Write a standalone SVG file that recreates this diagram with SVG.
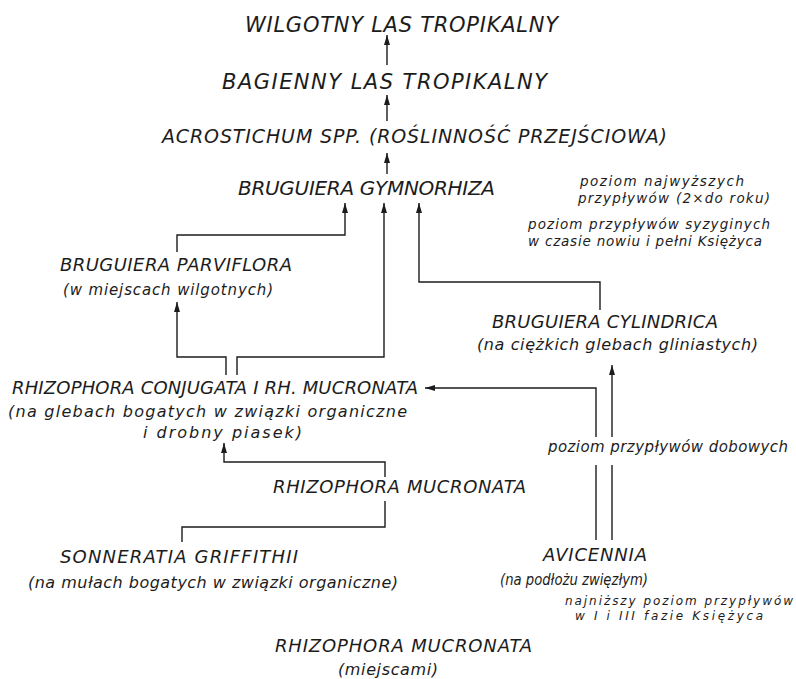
<svg xmlns="http://www.w3.org/2000/svg" width="796" height="679" viewBox="0 0 796 679">
<style>
text{font-family:"DejaVu Sans","Liberation Sans",sans-serif;font-style:italic;fill:#1c1c1c}
.t1{font-size:21px}
.t2{font-size:18px}
.n{font-size:15px}
.s{font-size:13.5px}
.c path{fill:none;stroke:#1c1c1c;stroke-width:1.4}
</style>
<defs>
<marker id="ah" viewBox="0 0 10 6" refX="10" refY="3" markerWidth="10" markerHeight="6" orient="auto" markerUnits="userSpaceOnUse"><path d="M0,0 L10,3 L0,6 z" fill="#1c1c1c"/></marker>
</defs>
<rect width="796" height="679" fill="#ffffff"/>
<g class="c" id="connectors">
<path d="M387,65 V35" marker-end="url(#ah)"/>
<path d="M387,121 V95" marker-end="url(#ah)"/>
<path d="M387,174 V153" marker-end="url(#ah)"/>
<path d="M177,252 V235 H345 V203" marker-end="url(#ah)"/>
<path d="M237,375 V357 H384 V203" marker-end="url(#ah)"/>
<path d="M226,375 V357 H177 V302" marker-end="url(#ah)"/>
<path d="M600,310 V282 H419 V203" marker-end="url(#ah)"/>
<path d="M612,540 V465"/>
<path d="M612,437 V365" marker-end="url(#ah)"/>
<path d="M596,540 V465"/>
<path d="M596,437 V388 H425" marker-end="url(#ah)"/>
<path d="M385,477 V462 H224 V443" marker-end="url(#ah)"/>
<path d="M385,501 V527 H182 V542"/>
</g>
<g id="wilgotny"><text class="t1" x="245" y="32" textLength="313">WILGOTNY LAS TROPIKALNY</text></g>
<g id="bagienny"><text class="t1" x="222" y="89" textLength="325">BAGIENNY LAS TROPIKALNY</text></g>
<g id="acrostichum"><text class="t2" x="162" y="143" textLength="505" style="font-size:19px">ACROSTICHUM SPP. (ROŚLINNOŚĆ PRZEJŚCIOWA)</text></g>
<g id="gymnorhiza"><text class="t1" x="238" y="195" textLength="257" style="font-size:20px">BRUGUIERA GYMNORHIZA</text></g>
<g id="note-high">
<text class="s" x="580" y="186" textLength="164">poziom najwyższych</text>
<text class="s" x="578" y="203" textLength="192">przypływów (2×do roku)</text>
</g>
<g id="note-syzygy">
<text class="s" x="528" y="229" textLength="242">poziom przypływów syzyginych</text>
<text class="s" x="528" y="246" textLength="234">w czasie nowiu i pełni Księżyca</text>
</g>
<g id="parviflora">
<text class="t2" x="60" y="271" textLength="232">BRUGUIERA PARVIFLORA</text>
<text class="n" x="63" y="295" textLength="210">(w miejscach wilgotnych)</text>
</g>
<g id="cylindrica">
<text class="t2" x="492" y="328" textLength="226">BRUGUIERA CYLINDRICA</text>
<text class="n" x="477" y="350" textLength="281" style="font-size:16px">(na ciężkich glebach gliniastych)</text>
</g>
<g id="conjugata">
<text class="t2" x="12" y="394" textLength="406">RHIZOPHORA CONJUGATA I RH. MUCRONATA</text>
<text class="n" x="8" y="417" textLength="399" style="font-size:16px">(na glebach bogatych w związki organiczne</text>
<text class="n" x="143" y="438" textLength="159" style="font-size:16px">i drobny piasek)</text>
</g>
<g id="note-daily"><text class="n" x="548" y="452" textLength="240">poziom przypływów dobowych</text></g>
<g id="mucronata1"><text class="t2" x="273" y="493" textLength="253">RHIZOPHORA MUCRONATA</text></g>
<g id="sonneratia">
<text class="t2" x="60" y="563" textLength="238">SONNERATIA GRIFFITHII</text>
<text class="n" x="28" y="588" textLength="370" style="font-size:16px">(na mułach bogatych w związki organiczne)</text>
</g>
<g id="avicennia">
<text class="t2" x="543" y="561" textLength="104">AVICENNIA</text>
<text class="n" x="500" y="585" textLength="148" lengthAdjust="spacingAndGlyphs" style="font-size:15px">(na podłożu zwięzłym)</text>
</g>
<g id="note-low">
<text class="s" x="565" y="605" textLength="228" style="font-size:12px">najniższy poziom przypływów</text>
<text class="s" x="575" y="620" textLength="188" style="font-size:12px">w I i III fazie Księżyca</text>
</g>
<g id="mucronata2">
<text class="t2" x="275" y="652" textLength="257">RHIZOPHORA MUCRONATA</text>
<text class="n" x="338" y="675" textLength="100" style="font-size:16px">(miejscami)</text>
</g>
</svg>
